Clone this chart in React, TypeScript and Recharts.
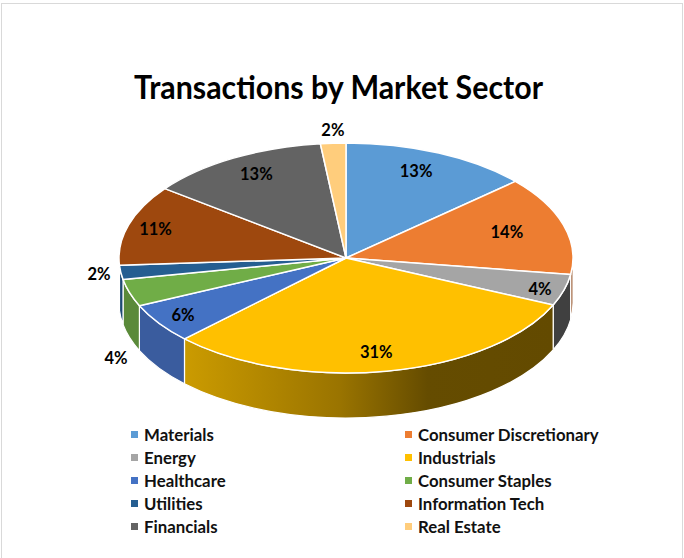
import { Legend, Pie, PieChart } from "recharts";

const sectors = [
  "Materials",
  "Consumer Discretionary",
  "Energy",
  "Industrials",
  "Healthcare",
  "Consumer Staples",
  "Utilities",
  "Information Tech",
  "Financials",
  "Real Estate",
];
const shares = [13.4, 13.9, 4.4, 30.9, 5.6, 3.8, 2.0, 11.3, 12.9, 1.8];
const topColors = [
  "#5B9BD5",
  "#ED7D31",
  "#A5A5A5",
  "#FFC000",
  "#4472C4",
  "#70AD47",
  "#255E91",
  "#9E480E",
  "#636363",
  "#FFCD7C",
];
const wallColors = [
  "#4A7DAB",
  "#8F4B1E",
  "#404040",
  "url(#industrialsWall)",
  "#3A5C9E",
  "#5A8A39",
  "#1E4B74",
  "#7E3A0B",
  "#4F4F4F",
  "#CCA463",
];
// label position as a fraction of the ellipse radii, from each slice's mid angle
const labelReach = [
  [0.756, 0.829],
  [0.74, 0.788],
  [0.89, 0.966],
  [0.75, 0.832],
  [0.872, 0.88],
  [1.063, 2.88],
  [1.097, 1.11],
  [0.876, 0.88],
  [0.797, 0.845],
  [1.02, 1.115],
];

const WIDTH = 684;
const HEIGHT = 558;
const CX = 346;
const CY = 258;
const RX = 227;
const RY = 115;
const DEPTH = 45;

const topData = sectors.map((name, i) => ({ name, value: shares[i], fill: topColors[i] }));
const wallData = sectors.map((name, i) => ({ name, value: shares[i], fill: wallColors[i] }));

const px = (t: number) => CX + RX * Math.sin((t * Math.PI) / 180);
const py = (t: number, drop = 0) => CY - RY * Math.cos((t * Math.PI) / 180) + drop;

function TopFace(props: any) {
  const t0 = 90 - props.startAngle;
  const t1 = 90 - props.endAngle;
  const large = t1 - t0 > 180 ? 1 : 0;
  const d = `M${CX} ${CY}L${px(t0)} ${py(t0)}A${RX} ${RY} 0 ${large} 1 ${px(t1)} ${py(t1)}Z`;
  return <path d={d} fill={props.fill} stroke="#fff" strokeWidth={1.5} strokeLinejoin="round" />;
}

function SideWall(props: any) {
  const t0 = Math.max(90 - props.startAngle, 90);
  const t1 = Math.min(90 - props.endAngle, 270);
  if (t1 <= t0) return null;
  const d =
    `M${px(t0)} ${py(t0)}A${RX} ${RY} 0 0 1 ${px(t1)} ${py(t1)}` +
    `L${px(t1)} ${py(t1, DEPTH)}A${RX} ${RY} 0 0 0 ${px(t0)} ${py(t0, DEPTH)}Z`;
  return <path d={d} fill={props.fill} stroke="#fff" strokeWidth={1.2} strokeLinejoin="round" />;
}

function SliceLabel(props: any) {
  const t = 90 - props.midAngle;
  const [fx, fy] = labelReach[props.index];
  const x = CX + RX * fx * Math.sin((t * Math.PI) / 180);
  const y = CY - RY * fy * Math.cos((t * Math.PI) / 180);
  return (
    <text
      x={x}
      y={y}
      textAnchor="middle"
      dominantBaseline="central"
      fontSize={16.5}
      fontWeight={700}
      fill="#000"
    >
      {`${Math.round(props.percent * 100)}%`}
    </text>
  );
}

function SectorLegend({ payload }: any) {
  const items = (payload ?? []).filter((entry: any) => entry.type !== "none");
  return (
    <div style={{ position: "relative", width: WIDTH, height: 120 }}>
      {items.map((entry: any, i: number) => {
        const col = i % 2;
        const row = Math.floor(i / 2);
        return (
          <div
            key={entry.value}
            style={{
              position: "absolute",
              left: col === 0 ? 131 : 405,
              top: row * 23.1,
              height: 20,
              display: "flex",
              alignItems: "center",
              whiteSpace: "nowrap",
              fontSize: 16.8,
              fontWeight: 700,
              color: "#111",
            }}
          >
            <span
              style={{
                width: 7,
                height: 7,
                marginRight: 6,
                background: topColors[i],
                display: "inline-block",
              }}
            />
            {entry.value}
          </div>
        );
      })}
    </div>
  );
}

export default function App() {
  return (
    <div
      style={{
        position: "absolute",
        left: 0,
        top: 0,
        width: WIDTH,
        height: HEIGHT,
        overflow: "hidden",
        background: "#fff",
        fontFamily: "Lato, sans-serif",
      }}
    >
      <div
        style={{
          position: "absolute",
          left: 1,
          top: 3,
          width: WIDTH - 2,
          height: HEIGHT + 10,
          border: "1px solid #D9D9D9",
          boxSizing: "border-box",
        }}
      />
      <PieChart
        width={WIDTH}
        height={HEIGHT}
        margin={{ top: 0, right: 0, bottom: 0, left: 0 }}
        style={{ position: "absolute", left: 0, top: 0 }}
      >
        <defs>
          <linearGradient id="industrialsWall" x1="0" y1="0" x2="1" y2="0">
            <stop offset="0%" stopColor="#CB9B00" />
            <stop offset="42%" stopColor="#9A7400" />
            <stop offset="66%" stopColor="#654C00" />
            <stop offset="100%" stopColor="#634A00" />
          </linearGradient>
        </defs>
        <text
          x={338.5}
          y={86}
          textAnchor="middle"
          dominantBaseline="central"
          fontSize={32}
          fontWeight={700}
          fill="#000"
          textLength={409}
          lengthAdjust="spacingAndGlyphs"
        >
          Transactions by Market Sector
        </text>
        <Pie
          data={wallData}
          dataKey="value"
          nameKey="name"
          cx={CX}
          cy={CY}
          outerRadius={RX}
          startAngle={90}
          endAngle={-270}
          legendType="none"
          shape={SideWall}
          isAnimationActive={false}
        />
        <Pie
          data={topData}
          dataKey="value"
          nameKey="name"
          cx={CX}
          cy={CY}
          outerRadius={RX}
          startAngle={90}
          endAngle={-270}
          shape={TopFace}
          label={SliceLabel}
          labelLine={false}
          isAnimationActive={false}
        />
        <Legend
          content={SectorLegend}
          itemSorter={null}
          wrapperStyle={{ position: "absolute", left: 0, top: 424, width: WIDTH, margin: 0 }}
        />
      </PieChart>
    </div>
  );
}
